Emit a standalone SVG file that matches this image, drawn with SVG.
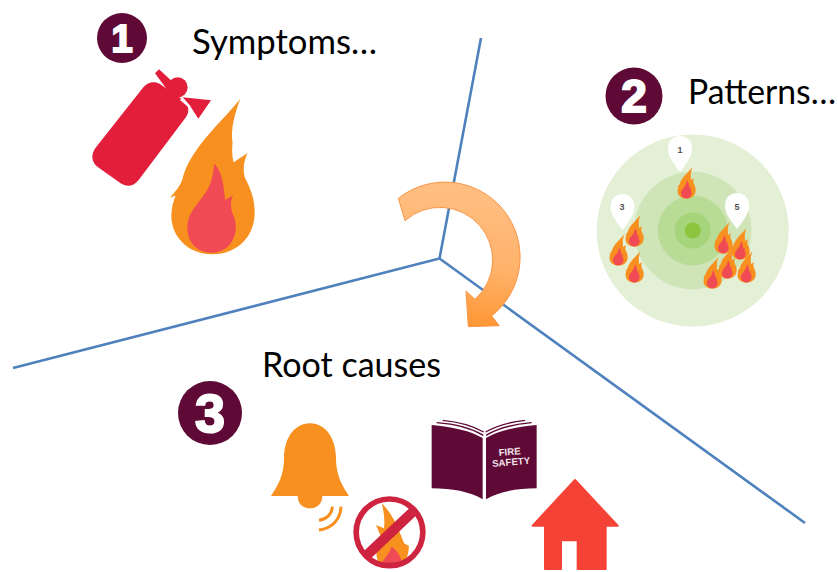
<svg xmlns="http://www.w3.org/2000/svg" width="838" height="572" viewBox="0 0 838 572">
<style>
.label{font-family:Lato,"Open Sans",sans-serif;font-size:34px;fill:#000}
.badge{fill:#5f0a36}
.num{font-family:"Liberation Sans",sans-serif;font-weight:700;fill:#fff;text-anchor:middle;stroke:#fff;stroke-width:2}
.pinnum{font-family:"Liberation Sans",sans-serif;font-size:9px;font-weight:700;fill:#555;text-anchor:middle}
.conn{fill:none;stroke:#4f81bd;stroke-width:2.6;stroke-linejoin:miter}
.wave{fill:none;stroke:#f7901e;stroke-width:9}
</style>
<defs>
<symbol id="flame" viewBox="265 265 260 475" preserveAspectRatio="none" overflow="visible">
<path fill="#f7901e" d="M478 268C462 310 448 360 455 400C452 425 455 445 458 458L500 430C488 455 485 480 492 505C510 540 521 570 521 610C521 680 470 735 395 735C320 735 272 680 272 620C272 595 278 575 285 558L268 565C285 545 298 530 305 510C325 420 420 340 478 268Z"/>
<path fill="#f04a55" d="M400 462C428 490 428 540 433 572L456 558C445 585 452 605 460 625C475 665 455 730 392 730C345 730 320 695 320 655C320 600 365 575 385 530C395 510 398 485 400 462Z"/>
</symbol>
<linearGradient id="arrowfill" x1="0.6" y1="0.1" x2="0.55" y2="1">
<stop offset="0" stop-color="#ffbd80"/><stop offset="0.55" stop-color="#ffb26a"/><stop offset="1" stop-color="#ff9633"/>
</linearGradient>
<path id="pinshape" fill="#fff" d="M0 0C-7 -9 -12 -16 -12 -23C-12 -31 -7 -36 0 -36C7 -36 12 -31 12 -23C12 -16 7 -9 0 0Z"/>
<clipPath id="ringclip"><circle cx="388.5" cy="367" r="100"/></clipPath>
</defs>
<rect width="838" height="572" fill="#fff"/>

<g id="connectors">
<path class="conn" d="M481 38L439.5 258.5L13 368"/>
<path class="conn" d="M439.5 258.5L805 523"/>
</g>

<g id="arrow" transform="translate(380 180) scale(.33333)">
<path fill="url(#arrowfill)" stroke="#f79646" stroke-width="3" d="M55 55A225 225 0 0 1 335 408L358 437L265 440L258 333L285 358A155 155 0 0 0 75 122Z"/>
</g>

<g id="node-symptoms">
<circle class="badge" cx="122" cy="38" r="25"/>
<text class="num" x="122" y="52" font-size="38">1</text>
<text class="label" x="192" y="54" textLength="185" lengthAdjust="spacingAndGlyphs">Symptoms…</text>
<g transform="translate(80 10) scale(.33333)" fill="#e31e3a">
<path d="M48 412L190 232C202 216 224 212 240 222L306 268C326 282 332 306 316 324L176 510C160 530 140 532 122 520L52 470C34 456 32 432 48 412Z"/>
<circle cx="293" cy="232" r="30"/>
<path d="M225 190L237 178L285 222L262 240Z"/>
<path d="M308 262L393 271L355 326L328 284Z"/>
<path stroke="#fff" stroke-width="6" fill="none" d="M302 268L330 292"/>
</g>
<use href="#flame" x="169" y="98" width="87" height="158"/>
</g>

<g id="node-patterns">
<circle class="badge" cx="634" cy="96" r="28.5"/>
<text class="num" x="634" y="112" font-size="46">2</text>
<text class="label" x="688" y="104" textLength="148" lengthAdjust="spacingAndGlyphs">Patterns…</text>
<circle cx="692.7" cy="230.5" r="96" fill="#e3f0d6"/>
<circle cx="692.7" cy="230.5" r="58.7" fill="#cfe5b8"/>
<circle cx="692.7" cy="230.5" r="35" fill="#b8dc96"/>
<circle cx="692.7" cy="230.5" r="18" fill="#a5d47a"/>
<circle cx="692.7" cy="230.5" r="8" fill="#8cc63f"/>
<use href="#pinshape" x="680" y="172"/>
<use href="#pinshape" x="622.5" y="230"/>
<use href="#pinshape" x="737" y="229"/>
<text class="pinnum" x="680" y="153">1</text>
<text class="pinnum" x="622" y="210">3</text>
<text class="pinnum" x="737" y="210">5</text>
<use href="#flame" x="677" y="167" width="19" height="32"/>
<use href="#flame" x="625" y="215" width="19" height="32"/>
<use href="#flame" x="609" y="234" width="19" height="32"/>
<use href="#flame" x="625" y="251" width="19" height="32"/>
<use href="#flame" x="714" y="222" width="19" height="32"/>
<use href="#flame" x="731" y="228" width="19" height="32"/>
<use href="#flame" x="718" y="247" width="19" height="32"/>
<use href="#flame" x="703" y="257" width="19" height="32"/>
<use href="#flame" x="737" y="251" width="19" height="32"/>
</g>

<g id="node-rootcauses">
<circle class="badge" cx="210" cy="413" r="32"/>
<text class="num" x="210" y="432" font-size="54">3</text>
<text class="label" x="262" y="377" textLength="179" lengthAdjust="spacingAndGlyphs">Root causes</text>
<g transform="translate(260 410) scale(.33333)">
<g id="bell">
<path fill="#f7901e" d="M150 40C200 40 228 90 228 145C228 195 245 225 267 258H187C187 282 170 295 150 295C130 295 113 282 113 258H33C55 225 72 195 72 145C72 90 100 40 150 40Z"/>
<path class="wave" d="M177 331C200 328 216 312 217 290"/>
<path class="wave" d="M177 360C215 355 241 330 243 290"/>
</g>
<g id="nofire">
<circle cx="388.5" cy="367" r="100" fill="#fff"/>
<g clip-path="url(#ringclip)">
<path fill="#f7901e" d="M365 280C395 310 410 340 432 400L447 408C445 440 435 465 420 485H345L358 465C345 440 345 400 365 385L348 345L372 355C375 330 372 305 365 280Z"/>
<path fill="#f04a55" d="M395 410C415 425 432 450 425 485H362C360 450 385 440 395 410Z"/>
</g>
<circle cx="388.5" cy="367" r="100" fill="none" stroke="#cf2440" stroke-width="17"/>
<path stroke="#cf2440" stroke-width="30" d="M318 438L462 302"/>
</g>
<g id="book">
<path fill="#5f0a36" d="M515 45C575 50 630 62 668 84V268C630 245 575 235 515 235Z"/>
<path fill="#5f0a36" d="M678 84C716 62 771 50 830 45V235C771 235 716 245 678 268Z"/>
<path fill="none" stroke="#5f0a36" stroke-width="4" d="M530 38C585 42 635 55 670 76M678 76C713 55 765 42 815 38M548 31C600 36 640 48 671 66M677 66C708 48 750 36 795 31"/>
<g transform="rotate(-5 752 140)" font-family="'Liberation Sans',sans-serif" font-weight="700" font-size="29" fill="#f3e3ea" text-anchor="middle">
<text x="750" y="135">FIRE</text>
<text x="752" y="166">SAFETY</text>
</g>
</g>
<g id="house">
<path fill="#f44336" stroke="#f44336" stroke-width="6" stroke-linejoin="round" d="M945 210L1073 347H1037V477H953V391H903V477H855V347H818Z"/>
</g>
</g>
</g>
</svg>
